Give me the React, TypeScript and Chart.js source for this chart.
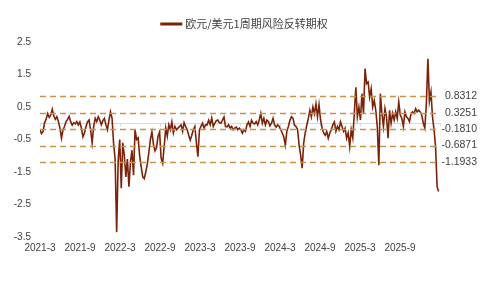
import React, { useEffect, useRef } from "react";
import { Chart, registerables } from "chart.js";

Chart.register(...registerables);

const seriesName = "欧元/美元1周期风险反转期权";

// tick labels along the horizontal axis, every 6 months from 2021-3
const xTickLabels = ["2021-3", "2021-9", "2022-3", "2022-9", "2023-3", "2023-9", "2024-3", "2024-9", "2025-3", "2025-9", ""];
const monthsPerTick = 6;

// vertical axis tick labels
const yTicks = [2.5, 1.5, 0.5, -0.5, -1.5, -2.5, -3.5];

// weekly observations, starting 2021-3
const monthsPerStep = 7 / 30.4375;
const values = [
  -0.2, -0.32, -0.25, 0.02, 0.12, 0.3, 0.18, 0.25, 0.43, 0.22,
  0.12, 0.2, 0.05, -0.15, -0.46, -0.2, -0.1, 0.05, 0.12, 0.21,
  0.05, -0.06, 0.02, -0.02, 0.05, -0.05, 0.04, -0.15, -0.42, -0.3,
  -0.1, 0.04, 0.1, -0.2, -0.6, -0.1, 0.15, 0.05, 0.2, 0.1,
  -0.05, 0.08, 0.15, -0.05, -0.2, 0.1, 0.35, 0.15, -0.62, -1.1,
  -3.35, -1.15, -0.5, -2.0, -0.6, -1.0, -1.65, -1.1, -1.95, -1.2,
  -0.83, -1.6, -0.2, -0.5, -0.45, -1.0, -1.34, -1.65, -1.7, -1.5,
  -1.25, -0.9, -0.5, -0.27, -0.65, -0.85, -0.75, -0.4, -0.27, -1.07,
  -1.23, -0.7, -0.15, -0.4, -0.05, -0.2, 0.04, -0.3, -0.1, -0.2,
  -0.15, -0.1, -0.05, -0.25, 0.02, -0.1, -0.2, -0.37, -0.52, -0.37,
  -0.2, -0.1, -0.6, -1.03, -0.2, -0.1, 0.0, -0.15, -0.05, -0.05,
  0.09, -0.05, 0.16, -0.1, 0.0, 0.08, 0.1, 0.02, 0.0, 0.1,
  0.19, -0.1, -0.11, -0.05, -0.15, -0.1, -0.2, -0.15, -0.12, -0.2,
  -0.15, -0.2, -0.31, -0.2, -0.25, -0.05, 0.04, -0.1, 0.09, 0.0,
  -0.02, 0.05, -0.05, 0.1, 0.3, 0.0, 0.15, -0.05, 0.1, 0.05,
  -0.08, 0.0, 0.15, -0.05, -0.12, -0.05, -0.1, -0.2, -0.3, -0.42,
  -0.67, -0.25, -0.1, 0.09, 0.2, 0.15, -0.06, -0.1, -0.2, -0.67,
  -0.98, -1.38, -0.6, -0.3, -0.06, 0.15, 0.4, 0.2, 0.5, 0.3,
  0.6, 0.2, 0.57, 0.1, -0.15, -0.3, -0.37, -0.25, -0.46, -0.3,
  -0.2, -0.05, 0.04, -0.25, -0.1, -0.2, 0.04, -0.1, -0.25, -0.15,
  -0.46, -0.3, -0.72, -0.2, -0.45, 0.3, 1.11, 0.2, 0.5, 0.1,
  0.91, 0.3, 1.68, 1.22, 1.27, 0.8, 1.06, 0.5, 0.7, 0.4,
  -0.11, -1.29, 0.91, 0.3, -0.1, 0.45, 0.2, -0.46, 0.4, 0.0,
  0.3, 0.1, 0.35, 0.15, 0.65, 0.25, 0.15, -0.1, 0.35, 0.2,
  0.15, 0.05, 0.3, 0.35, 0.3, 0.45, 0.35, 0.4, 0.35, 0.25,
  0.0, -0.15, 0.6, 1.98, 0.68, 0.96, 0.2, -0.2, -0.72, -1.95,
  -2.1,
];

// mean and standard-deviation reference levels
const bandLevels = [0.8312, 0.3251, -0.181, -0.6871, -1.1933];
const bandLabels = ["0.8312", "0.3251", "-0.1810", "-0.6871", "-1.1933"];

const lineColor = "#7a2309";
const bandColor = "#c8924a";
const textColor = "#404040";

const overlayPlugin = {
  id: "overlay",
  beforeDatasetsDraw(chart: any) {
    const { ctx, chartArea, scales } = chart;
    const x = scales.x;
    const y = scales.y;
    const y0 = Math.round(y.getPixelForValue(0)) + 0.5;
    ctx.save();
    ctx.strokeStyle = "#d9d9d9";
    ctx.lineWidth = 1;
    ctx.beginPath();
    ctx.moveTo(chartArea.left, y0);
    ctx.lineTo(chartArea.right, y0);
    x.ticks.forEach((t: any) => {
      const px = Math.round(x.getPixelForValue(t.value)) + 0.5;
      ctx.moveTo(px, y0);
      ctx.lineTo(px, y0 + 3);
    });
    ctx.stroke();
    ctx.restore();
  },
  afterDatasetsDraw(chart: any) {
    const { ctx, chartArea, scales } = chart;
    const y = scales.y;
    ctx.save();
    ctx.strokeStyle = bandColor;
    ctx.lineWidth = 1.5;
    ctx.setLineDash([6, 4]);
    bandLevels.forEach((v) => {
      const py = Math.round(y.getPixelForValue(v)) + 0.5;
      ctx.beginPath();
      ctx.moveTo(chartArea.left, py);
      ctx.lineTo(chartArea.right, py);
      ctx.stroke();
    });
    ctx.setLineDash([]);
    ctx.fillStyle = textColor;
    ctx.font = "10.5px 'Liberation Sans', Arial, sans-serif";
    ctx.textAlign = "right";
    ctx.textBaseline = "middle";
    bandLevels.forEach((v, k) => {
      const py = y.getPixelForValue(v);
      ctx.fillText(bandLabels[k], chartArea.right + 37, py);
    });
    ctx.restore();
  },
  afterDraw(chart: any) {
    const { ctx } = chart;
    ctx.save();
    ctx.font = "11px 'Noto Sans CJK SC', sans-serif";
    const tw = ctx.measureText(seriesName).width;
    const sample = 22;
    const gap = 3;
    const total = sample + gap + tw;
    const cx = 244;
    const ly = 24;
    const start = cx - total / 2;
    ctx.strokeStyle = lineColor;
    ctx.lineWidth = 3;
    ctx.beginPath();
    ctx.moveTo(start, ly);
    ctx.lineTo(start + sample, ly);
    ctx.stroke();
    ctx.fillStyle = textColor;
    ctx.textAlign = "left";
    ctx.textBaseline = "middle";
    ctx.fillText(seriesName, start + sample + gap, ly);
    ctx.restore();
  },
};

export default function App() {
  const ref = useRef<HTMLCanvasElement | null>(null);

  useEffect(() => {
    if (!ref.current) return;
    const points = values.map((v, i) => ({ x: i * monthsPerStep, y: v }));
    const chart = new Chart(ref.current, {
      type: "line",
      data: {
        datasets: [
          {
            label: seriesName,
            data: points,
            borderColor: lineColor,
            backgroundColor: lineColor,
            borderWidth: 1.6,
            pointRadius: 0,
            tension: 0,
            fill: false,
          },
        ],
      },
      options: {
        animation: false,
        responsive: false,
        devicePixelRatio: 1,
        layout: { padding: { top: 42, right: 51, bottom: 40, left: 0 } },
        plugins: {
          legend: { display: false },
          tooltip: { enabled: false },
        },
        scales: {
          x: {
            type: "linear",
            min: 0,
            max: (xTickLabels.length - 1) * monthsPerTick,
            grid: { display: false, drawTicks: false },
            border: { display: false },
            afterBuildTicks: (s: any) => {
              s.ticks = xTickLabels.map((_, k) => ({ value: k * monthsPerTick }));
            },
            afterFit: (s: any) => {
              s.height = 20;
            },
            ticks: {
              autoSkip: false,
              maxRotation: 0,
              minRotation: 0,
              padding: 5,
              color: textColor,
              font: { family: "'Liberation Sans', Arial, sans-serif", size: 10 },
              callback: (_v: any, idx: number) => xTickLabels[idx],
            },
          },
          y: {
            type: "linear",
            min: -3.5,
            max: 2.5,
            grid: { display: false, drawTicks: false },
            border: { display: false },
            afterBuildTicks: (s: any) => {
              s.ticks = yTicks.map((v) => ({ value: v }));
            },
            afterFit: (s: any) => {
              s.width = 40;
            },
            ticks: {
              padding: 9,
              color: textColor,
              font: { family: "'Liberation Sans', Arial, sans-serif", size: 10 },
              callback: (v: any) => String(v),
            },
          },
        },
      },
      plugins: [overlayPlugin],
    });
    return () => chart.destroy();
  }, []);

  return (
    <div style={{ position: "fixed", left: 0, top: 0, width: 491, height: 297, background: "#fff" }}>
      <canvas ref={ref} width={491} height={297} style={{ width: 491, height: 297 }} />
    </div>
  );
}
